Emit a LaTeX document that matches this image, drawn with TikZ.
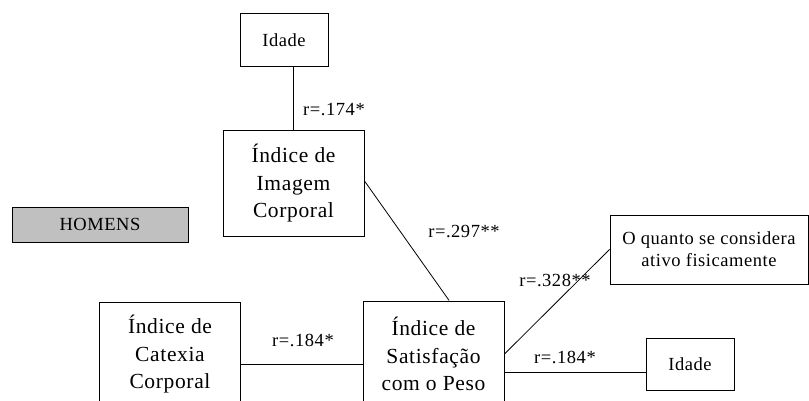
\documentclass[tikz,border=0pt]{standalone}
\usepackage{fontspec}
\setmainfont{Liberation Serif}[LetterSpace=3]
\usetikzlibrary{calc}
\definecolor{boxgray}{HTML}{C0C0C0}
\tikzset{
  bigbox/.style={draw=black, line width=1pt, rectangle, inner sep=0pt, align=center,
    minimum width=141pt, minimum height=105pt, font=\fontsize{21.5}{27.5}\selectfont},
  smallbox/.style={draw=black, line width=1pt, rectangle, inner sep=0pt, align=center,
    font=\fontsize{18.5}{22}\selectfont},
  lbl/.style={inner sep=0pt, font=\fontsize{18.5}{20}\selectfont},
  conn/.style={draw=black, line width=1pt},
  diag/.style={draw=black, line width=0.8pt}
}
\begin{document}
\begin{tikzpicture}[x=1pt, y=-1pt]
\useasboundingbox (0,0) rectangle (809,401);
\clip (0,0) rectangle (809,401);
\node[smallbox, minimum width=88pt, minimum height=53pt] (idade1) at (284,40.5) {Idade};
\node[bigbox] (imagem) at (293.5,183.5) {Índice de\\Imagem\\Corporal};
\node[smallbox, fill=boxgray, minimum width=176pt, minimum height=35pt] (homens) at (100,224.5) {HOMENS};
\node[bigbox] (catexia) at (170,354.5) {Índice de\\Catexia\\Corporal};
\node[bigbox, minimum height=106pt] (satisf) at (433.5,354) {Índice de\\Satisfação\\com o Peso};
\node[smallbox, minimum width=198pt, minimum height=69pt] (quanto) at (709,249.5) {O quanto se considera\\ativo fisicamente};
\node[smallbox, minimum width=88pt, minimum height=52pt] (idade2) at (690,364) {Idade};

\draw[conn] (imagem.north) -- (imagem.north |- idade1.south);
\coordinate (imE) at ($(imagem.north east)!0.476!(imagem.south east)$);
\coordinate (saN) at ($(satisf.north west)!0.61!(satisf.north east)$);
\draw[diag] (imE) -- (saN);
\coordinate (caE) at ($(catexia.north east)!0.59!(catexia.south east)$);
\draw[conn] (caE) -- (satisf.west |- caE);
\draw[diag] (satisf.east) -- (quanto.west);
\coordinate (saE) at ($(satisf.north east)!0.67!(satisf.south east)$);
\draw[conn] (saE) -- (idade2.west |- saE);

\node[lbl] (l1) at (334,110) {r=.174*};
\node[lbl] (l2) at (464,232) {r=.297**};
\node[lbl] (l3) at (303,340) {r=.184*};
\node[lbl] (l4) at (555,280) {r=.328**};
\node[lbl] (l5) at (565,357) {r=.184*};
\end{tikzpicture}
\end{document}
